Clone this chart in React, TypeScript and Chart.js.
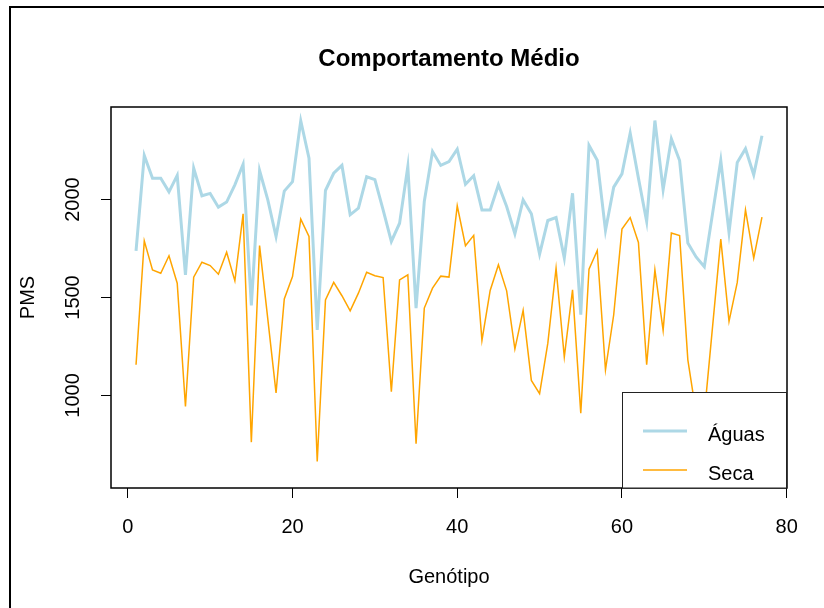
import React, { useEffect, useRef } from "react";
import { Chart, registerables } from "chart.js";

Chart.register(...registerables);

// ---- data ----
const genotipos = [
  1, 2, 3, 4, 5, 6, 7, 8, 9, 10, 11, 12, 13, 14, 15, 16, 17, 18, 19, 20,
  21, 22, 23, 24, 25, 26, 27, 28, 29, 30, 31, 32, 33, 34, 35, 36, 37, 38, 39, 40,
  41, 42, 43, 44, 45, 46, 47, 48, 49, 50, 51, 52, 53, 54, 55, 56, 57, 58, 59, 60,
  61, 62, 63, 64, 65, 66, 67, 68, 69, 70, 71, 72, 73, 74, 75, 76, 77,
];

const aguas = [
  1738, 2225, 2109, 2109, 2039, 2123, 1616, 2160, 2019, 2031,
  1961, 1987, 2075, 2180, 1460, 2148, 1998, 1811, 2043, 2091,
  2402, 2211, 1335, 2046, 2134, 2174, 1922, 1956, 2116, 2101,
  1947, 1786, 1879, 2168, 1446, 1990, 2245, 2174, 2194, 2257,
  2078, 2121, 1947, 1947, 2075, 1964, 1825, 1998, 1927, 1721,
  1893, 1908, 1701, 2032, 1412, 2276, 2200, 1842, 2063, 2131,
  2339, 2109, 1888, 2403, 2050, 2310, 2199, 1778, 1707, 1657,
  1928, 2199, 1832, 2189, 2259, 2126, 2325,
];

const seca = [
  1157, 1789, 1641, 1624, 1713, 1573, 944, 1604, 1680, 1663,
  1619, 1731, 1585, 1927, 762, 1765, 1390, 1013, 1493, 1607,
  1900, 1811, 663, 1488, 1577, 1509, 1432, 1522, 1629, 1611,
  1602, 1020, 1590, 1616, 754, 1446, 1548, 1609, 1604, 1968,
  1764, 1817, 1281, 1536, 1667, 1534, 1237, 1434, 1077, 1009,
  1267, 1650, 1196, 1539, 910, 1645, 1740, 1131, 1412, 1849,
  1908, 1781, 1157, 1641, 1332, 1829, 1816, 1182, 910, 903,
  1350, 1798, 1378, 1577, 1947, 1701, 1910,
];

const xTicks = [0, 20, 40, 60, 80];
const yTicks = [1000, 1500, 2000];
const seriesLabels = ["Águas", "Seca"];
const titulo = "Comportamento Médio";
const xLabel = "Genótipo";
const yLabel = "PMS";

const FONT = "'Liberation Sans', Arial, Helvetica, sans-serif";

const rPlugin = {
  id: "rStyle",
  afterDatasetsDraw(chart: any) {
    const { ctx, chartArea } = chart;
    const { left, top, right, bottom } = chartArea;
    ctx.save();
    // plot box
    ctx.strokeStyle = "#000";
    ctx.lineWidth = 1.5;
    ctx.strokeRect(left, top, right - left, bottom - top);

    // legend (bottom-right, inside plot)
    const lx = 622;
    const ly = 392;
    ctx.fillStyle = "#fff";
    ctx.fillRect(lx, ly, right - lx, bottom - ly);
    ctx.strokeStyle = "#222";
    ctx.lineWidth = 1;
    ctx.strokeRect(lx + 0.5, ly + 0.5, right - lx - 1, bottom - ly - 0.5);
    chart.data.datasets.forEach((ds: any, i: number) => {
      const cy = ly + 39 + i * 39;
      ctx.strokeStyle = ds.borderColor;
      ctx.lineWidth = ds.borderWidth;
      ctx.beginPath();
      ctx.moveTo(643, cy);
      ctx.lineTo(687, cy);
      ctx.stroke();
      ctx.fillStyle = "#000";
      ctx.font = `20px ${FONT}`;
      ctx.textAlign = "left";
      ctx.textBaseline = "alphabetic";
      ctx.fillText(ds.label, 708, cy + 10);
    });
    ctx.restore();
  },
  afterDraw(chart: any) {
    const { ctx } = chart;
    ctx.save();
    ctx.strokeStyle = "#000";
    ctx.lineWidth = 2;
    ctx.beginPath();
    ctx.moveTo(10, 700);
    ctx.lineTo(10, 7);
    ctx.lineTo(900, 7);
    ctx.stroke();
    ctx.restore();
  },
};

export default function App() {
  const ref = useRef<HTMLCanvasElement | null>(null);

  useEffect(() => {
    if (!ref.current) return;
    const chart = new Chart(ref.current, {
      type: "line",
      data: {
        datasets: [
          {
            label: seriesLabels[0],
            data: genotipos.map((g, i) => ({ x: g, y: aguas[i] })),
            borderColor: "rgb(173,216,230)",
            borderWidth: 3,
            pointRadius: 0,
            tension: 0,
            fill: false,
          },
          {
            label: seriesLabels[1],
            data: genotipos.map((g, i) => ({ x: g, y: seca[i] })),
            borderColor: "rgb(255,165,0)",
            borderWidth: 1.5,
            pointRadius: 0,
            tension: 0,
            fill: false,
          },
        ],
      },
      options: {
        responsive: false,
        devicePixelRatio: 1,
        animation: false,
        events: [],
        layout: { padding: { left: 0, right: 37, top: 0, bottom: 0 } },
        plugins: {
          legend: { display: false },
          tooltip: { enabled: false },
          title: {
            display: true,
            text: titulo,
            fullSize: false,
            color: "#000",
            font: { family: FONT, size: 24, weight: "bold", lineHeight: 1.2 },
            padding: { top: 44.6, bottom: 33.6 },
          },
        },
        scales: {
          x: {
            type: "linear",
            min: -2.04,
            max: 80.04,
            afterBuildTicks: (s: any) => {
              s.ticks = xTicks.map((v) => ({ value: v }));
            },
            afterFit: (s: any) => {
              s.height = 120;
            },
            grid: { drawOnChartArea: false, drawTicks: true, tickLength: 10, color: "#000", lineWidth: 1 },
            border: { display: false },
            ticks: {
              color: "#000",
              font: { family: FONT, size: 20 },
              padding: 17,
              minRotation: 0,
              maxRotation: 0,
              autoSkip: false,
              callback: (v: any) => String(v),
            },
            title: {
              display: true,
              text: xLabel,
              color: "#000",
              font: { family: FONT, size: 20 },
              padding: { top: 0, bottom: 19 },
            },
          },
          y: {
            type: "linear",
            min: 528,
            max: 2472,
            afterBuildTicks: (s: any) => {
              s.ticks = yTicks.map((v) => ({ value: v }));
            },
            afterFit: (s: any) => {
              s.width = 111;
            },
            grid: { drawOnChartArea: false, drawTicks: true, tickLength: 10, color: "#000", lineWidth: 1 },
            border: { display: false },
            ticks: {
              color: "#000",
              font: { family: FONT, size: 20 },
              padding: 5,
              minRotation: 90,
              maxRotation: 90,
              crossAlign: "center",
              autoSkip: false,
              callback: (v: any) => String(v),
            },
            title: {
              display: true,
              text: yLabel,
              color: "#000",
              font: { family: FONT, size: 20 },
              padding: { top: 16, bottom: 0 },
            },
          },
        },
      } as any,
      plugins: [rPlugin],
    });
    return () => chart.destroy();
  }, []);

  return (
    <div style={{ position: "fixed", left: 0, top: 0, width: 824, height: 608, background: "#fff" }}>
      <canvas ref={ref} width={824} height={608} style={{ display: "block" }} />
    </div>
  );
}
